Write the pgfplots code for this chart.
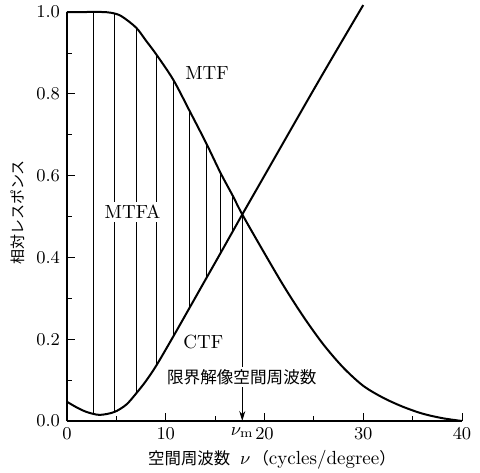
\documentclass[border=0pt]{standalone}
\usepackage{fontspec}
\usepackage{pgfplots}
\pgfplotsset{compat=1.18}
\usetikzlibrary{arrows.meta}
\newfontfamily\cjk{Noto Sans CJK JP}
\begin{document}
\begin{tikzpicture}
\path[use as bounding box] (-33.5pt,-25.5pt) rectangle (206.5pt,210.5pt);
\begin{axis}[
  at={(0,0)}, anchor=south west,
  scale only axis, width=197.5pt, height=204.5pt,
  xmin=0, xmax=40, ymin=0, ymax=1,
  clip=false,
  axis lines=left, axis line style={-, line width=0.6pt},
  tick align=inside,
  xtick={0,10,20,30,40}, minor x tick num=1,
  ytick={0,0.2,0.4,0.6,0.8,1.0}, minor y tick num=1,
  major tick length=4pt, minor tick length=2.5pt,
  tick style={line width=0.4pt, black},
  yticklabel style={/pgf/number format/.cd, fixed, fixed zerofill, precision=1},
  tick label style={font=\fontsize{9.5}{11}\selectfont},
  extra x ticks={17.75},
  extra x tick labels={$\nu_{\mathrm{m}}$},
  extra x tick style={major tick length=0pt},
  xlabel={{\cjk\fontsize{8.2}{10}\selectfont 空間周波数}\hspace{5pt}$\nu$\hspace{1pt}{\cjk\fontsize{8.2}{10}\selectfont （}cycles/degree{\cjk\fontsize{8.2}{10}\selectfont ）}},
  xlabel style={at={(axis description cs:0.519,-0.095)}, anchor=center, font=\fontsize{9.5}{11}\selectfont},
  ylabel={\cjk 相対レスポンス},
  ylabel style={at={(axis description cs:-0.124,0.51)}, anchor=center, font=\fontsize{7.5}{9}\selectfont},
]
% hatch lines (CTF to MTF)
\addplot[line width=0.4pt] coordinates {(2.66,0.017) (2.66,1.0)};
\addplot[line width=0.4pt] coordinates {(4.79,0.022) (4.79,0.996)};
\addplot[line width=0.4pt] coordinates {(6.99,0.067) (6.99,0.962)};
\addplot[line width=0.4pt] coordinates {(9.08,0.137) (9.08,0.895)};
\addplot[line width=0.4pt] coordinates {(10.77,0.207) (10.77,0.834)};
\addplot[line width=0.4pt] coordinates {(12.44,0.278) (12.44,0.757)};
\addplot[line width=0.4pt] coordinates {(14.08,0.348) (14.08,0.680)};
\addplot[line width=0.4pt] coordinates {(15.56,0.411) (15.56,0.606)};
\addplot[line width=0.4pt] coordinates {(16.78,0.464) (16.78,0.551)};
% MTF
\addplot[line width=1pt, smooth] coordinates {
 (0,1.0) (2,1.0) (3.5,1.0) (4.5,0.998) (5.5,0.99) (6.99,0.962) (8,0.93)
 (9.08,0.895) (10.77,0.834) (12.44,0.757) (14.08,0.68) (15.56,0.606)
 (16.78,0.551) (17.75,0.505) (20,0.41) (22,0.328) (24,0.253) (26,0.186)
 (28,0.13) (30,0.086) (32,0.057) (34,0.035) (36,0.018) (38,0.007) (40,0.0)};
% CTF
\addplot[line width=1pt, smooth] coordinates {
 (0,0.047) (1,0.033) (2,0.022) (3.3,0.015) (4.79,0.022) (6,0.04) (6.99,0.067)
 (8,0.098) (9.08,0.137) (10.77,0.207) (12.44,0.278) (14.08,0.348) (15.56,0.411)
 (17.75,0.505) (20,0.6) (24.5,0.79) (27,0.894) (30,1.017)};
% arrow at nu_m
\addplot[line width=0.5pt, -{Stealth[length=5pt, width=3pt]}] coordinates {(17.75,0.505) (17.75,0.0)};
% labels
\node[font=\fontsize{9.5}{11}\selectfont] at (axis cs:14.18,0.851) {MTF};
\node[font=\fontsize{9.5}{11}\selectfont, fill=white, inner sep=1.5pt] at (axis cs:6.63,0.511) {MTFA};
\node[font=\fontsize{9.5}{11}\selectfont] at (axis cs:13.8,0.194) {CTF};
\node[font=\cjk\fontsize{8.3}{10}\selectfont, fill=white, inner sep=1pt] at (axis cs:17.7,0.108) {限界解像空間周波数};
\end{axis}
\end{tikzpicture}
\end{document}
